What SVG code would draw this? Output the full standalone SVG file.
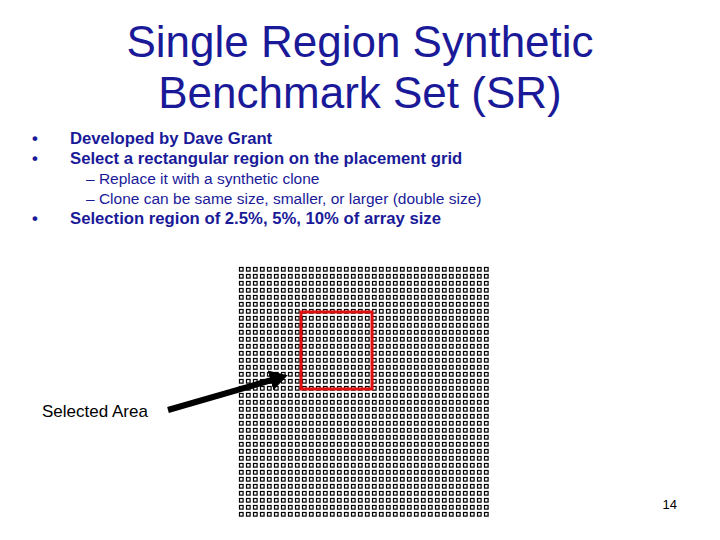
<svg xmlns="http://www.w3.org/2000/svg" width="720" height="540" viewBox="0 0 720 540">
<defs>
<style>
.t{font-family:"Liberation Sans",Arial,sans-serif;fill:#000}
.title{font-family:"Liberation Sans",Arial,sans-serif;fill:#1a1a99;font-size:44px}
.b{font-size:16.7px;fill:#1a1a99;font-weight:bold}
.s{font-size:15.5px;fill:#1a1a99}
</style>
<pattern id="g" x="238" y="266" width="7" height="7" patternUnits="userSpaceOnUse">
<rect x="1.5" y="1.5" width="3.6" height="3.6" fill="#fff" stroke="#000" stroke-width="1.2"/>
</pattern>
<marker id="ah" markerWidth="4" markerHeight="4" refX="2" refY="2" orient="auto" markerUnits="strokeWidth"><path d="M0,0.3 L3,2 L0,3.7 Z" fill="#000"/></marker>
</defs>
<rect width="720" height="540" fill="#fff"/>
<text class="title" x="360" y="57" text-anchor="middle">Single Region Synthetic</text>
<text class="title" x="360" y="108" text-anchor="middle">Benchmark Set (SR)</text>
<g id="bullets">
<text class="t b" x="32" y="144">•</text><text class="t b" x="70" y="144">Developed by Dave Grant</text>
<text class="t b" x="32" y="164">•</text><text class="t b" x="70" y="164">Select a rectangular region on the placement grid</text>
<text class="t s" x="86" y="184">–  Replace it with a synthetic clone</text>
<text class="t s" x="86" y="204">–  Clone can be same size, smaller, or larger (double size)</text>
<text class="t b" x="32" y="224">•</text><text class="t b" x="70" y="224">Selection region of 2.5%, 5%, 10% of array size</text>
</g>
<g id="grid"><rect x="238" y="266" width="252" height="252" fill="url(#g)"/></g>
<g id="selection"><rect x="301" y="312" width="71" height="77" fill="none" stroke="#e01010" stroke-width="3"/></g>
<g id="connectors"><line x1="168" y1="410" x2="282" y2="377" stroke="#000" stroke-width="6" marker-end="url(#ah)"/></g>
<g id="label"><text class="t" x="42" y="417" font-size="17">Selected Area</text></g>
<text class="t" x="677" y="509" font-size="13" text-anchor="end">14</text>
</svg>
